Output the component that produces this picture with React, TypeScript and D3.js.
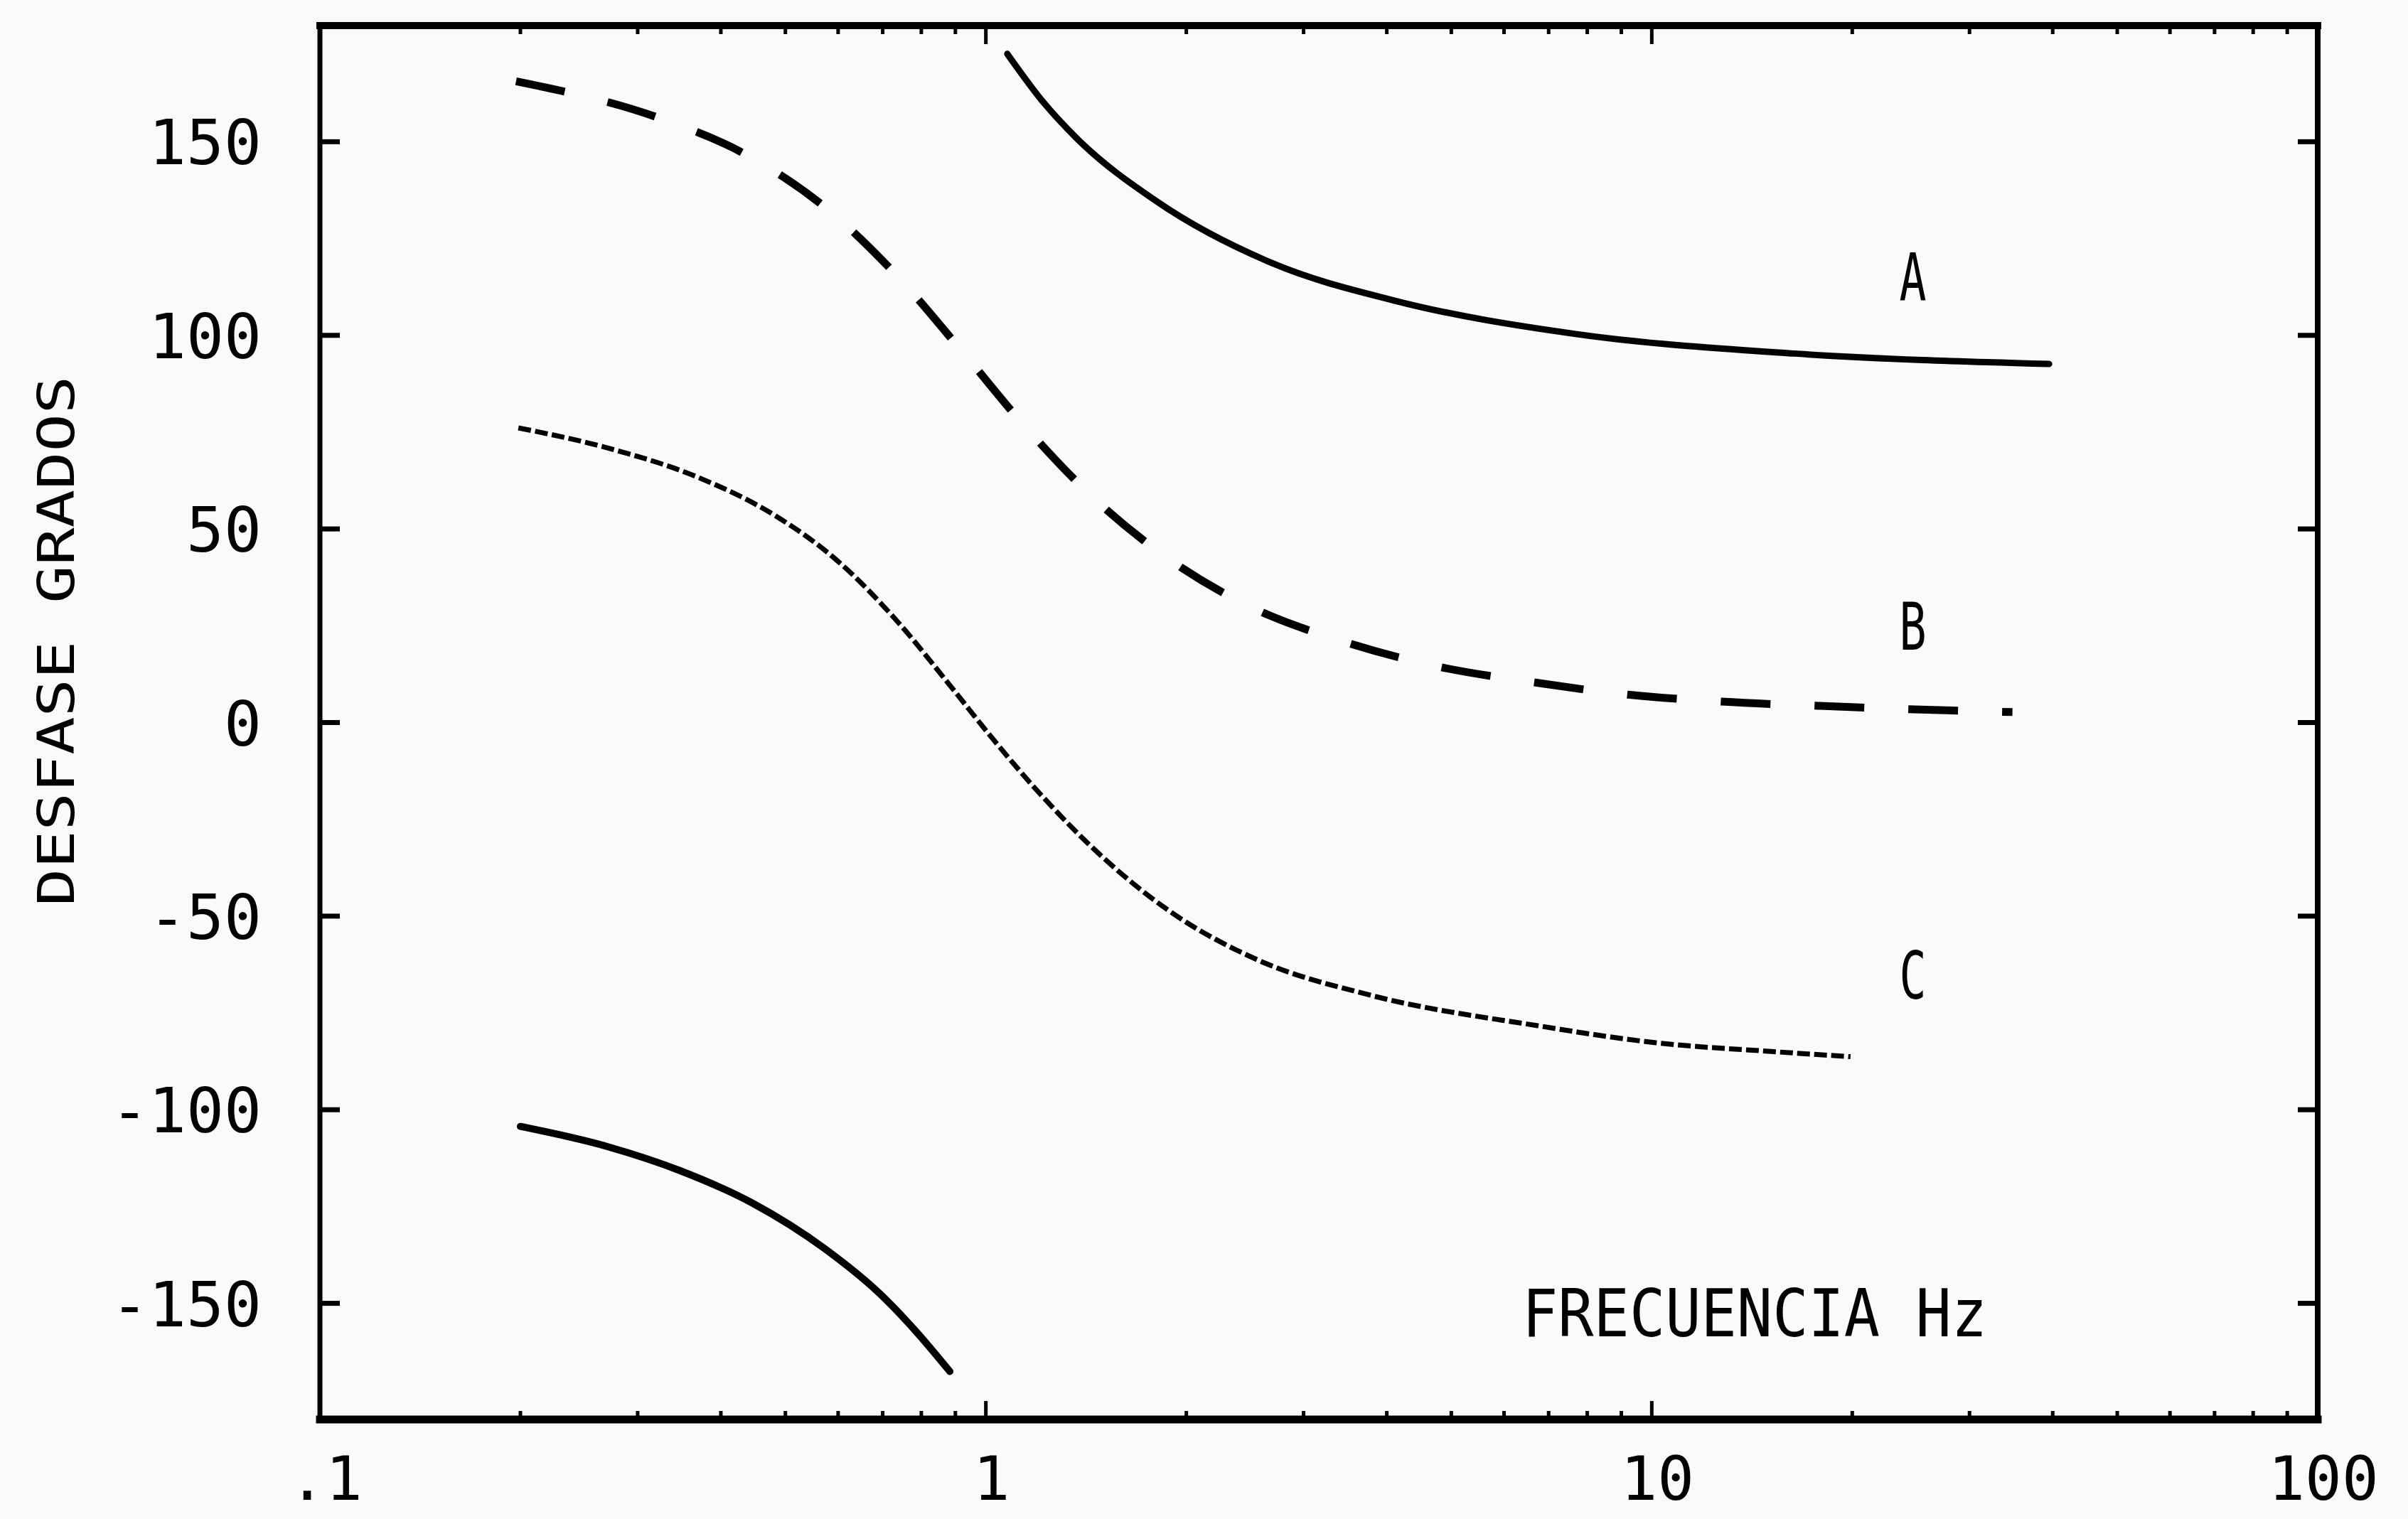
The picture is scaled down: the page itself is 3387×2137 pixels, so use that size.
import React from "react";
import * as d3 from "d3";

// ---------- data ----------
const xTickLabels = [0.1, 1, 10, 100];
const xTickText = [".1", "1", "10", "100"];
const yTickValues = [-150, -100, -50, 0, 50, 100, 150];

// Curve A (solid), upper branch
const freqA = [1.077, 1.224, 1.367, 1.805, 2.695, 4.124, 7.72, 16.38, 39.5];
const phaseA = [172.7, 159.9, 151.0, 134.6, 118.6, 108.9, 100.3, 95.3, 92.6];
// Curve A (solid), wrapped lower branch
const freqAw = [0.2, 0.27, 0.347, 0.446, 0.573, 0.692, 0.785, 0.883];
const phaseAw = [-104.3, -109.5, -115.7, -124.1, -135.9, -147.4, -157.2, -167.6];
// Curve B (long dashes)
const freqB = [0.197, 0.321, 0.435, 0.578, 0.74, 0.925, 1.146, 1.447, 1.887, 2.509, 3.446, 4.73, 6.64, 9.21, 12.74, 17.89, 24.8, 34.8];
const phaseB = [165.6, 156.3, 146.8, 132.6, 114.9, 95.5, 76.4, 58.2, 42.1, 29.7, 20.9, 14.6, 10.4, 7.2, 5.4, 4.3, 3.4, 2.7];
// Curve C (fine dashes)
const freqC = [0.1986, 0.272, 0.37, 0.481, 0.603, 0.74, 0.887, 1.023, 1.206, 1.479, 1.887, 2.559, 3.775, 6.74, 10.14, 15.25, 19.88];
const phaseC = [76.1, 70.8, 63.3, 53.6, 41.3, 25.7, 9.2, -4.1, -18.4, -33.9, -48.7, -61.3, -70.4, -78.3, -82.7, -85.0, -86.3];

const curveLabels = ["A", "B", "C"];
const curveLabelFreq = [24.6, 24.6, 24.6];
const curveLabelPhase = [115, 24.9, -65.2];

const W = 3387;
const H = 2137;
const L = 450, R = 3260, T = 36, B = 1997;
const FONT = "'DejaVu Sans Mono', monospace";

export default function App() {
  const x = d3.scaleLog().domain([0.1, 100]).range([L, R]);
  const y = d3.scaleLinear().domain([-180, 180]).range([B, T]);
  const line = d3
    .line<[number, number]>()
    .x((d) => x(d[0]))
    .y((d) => y(d[1]))
    .curve(d3.curveMonotoneX);
  const zip = (f: number[], p: number[]) => f.map((v, i) => [v, p[i]] as [number, number]);

  const minor: number[] = [];
  [0.1, 1, 10].forEach((d) => {
    for (let k = 2; k <= 9; k++) minor.push(d * k);
  });
  const major = [1, 10];

  return (
    <div style={{ position: "absolute", left: 0, top: 0, width: W, height: H }}>
      <svg width={W} height={H} viewBox={`0 0 ${W} ${H}`} style={{ display: "block" }}>
        <rect x={0} y={0} width={W} height={H} fill="#fafafa" />
        {/* frame */}
        <g stroke="#000" strokeLinecap="square">
          <line x1={L} y1={T} x2={R} y2={T} strokeWidth={10} />
          <line x1={L} y1={B} x2={R} y2={B} strokeWidth={11} />
          <line x1={L} y1={T} x2={L} y2={B} strokeWidth={7} />
          <line x1={R} y1={T} x2={R} y2={B} strokeWidth={8} />
        </g>
        {/* y ticks */}
        <g stroke="#000" strokeWidth={7}>
          {yTickValues.map((v) => (
            <g key={"yt" + v}>
              <line x1={L} x2={L + 28} y1={y(v)} y2={y(v)} />
              <line x1={R} x2={R - 28} y1={y(v)} y2={y(v)} />
            </g>
          ))}
        </g>
        {/* x ticks */}
        <g stroke="#000" strokeWidth={5}>
          {minor.map((f) => (
            <g key={"xm" + f}>
              <line x1={x(f)} x2={x(f)} y1={B} y2={B - 12} />
              <line x1={x(f)} x2={x(f)} y1={T} y2={T + 12} />
            </g>
          ))}
          {major.map((f) => (
            <g key={"xM" + f}>
              <line x1={x(f)} x2={x(f)} y1={B} y2={B - 26} />
              <line x1={x(f)} x2={x(f)} y1={T} y2={T + 26} />
            </g>
          ))}
        </g>
        {/* y tick labels */}
        <g fontFamily={FONT} fontSize={88} fill="#000" textAnchor="end">
          {yTickValues.map((v) => (
            <text key={"yl" + v} x={368} y={y(v) + 32}>
              {String(v)}
            </text>
          ))}
        </g>
        {/* x tick labels */}
        <g fontFamily={FONT} fontSize={86} fill="#000" textAnchor="middle">
          {xTickLabels.map((f, i) => (
            <text key={"xl" + f} x={x(f) + 8} y={2110}>
              {xTickText[i]}
            </text>
          ))}
        </g>
        {/* axis titles */}
        <text
          x={2141}
          y={1880}
          fontFamily={FONT}
          fontSize={92}
          textLength={654}
          lengthAdjust="spacingAndGlyphs"
          fill="#000"
        >
          FRECUENCIA Hz
        </text>
        <text
          transform="translate(104, 902) rotate(-90)"
          x={0}
          y={0}
          textAnchor="middle"
          fontFamily={FONT}
          fontSize={72}
          textLength={746}
          lengthAdjust="spacingAndGlyphs"
          fill="#000"
        >
          DESFASE GRADOS
        </text>
        {/* curves */}
        <path d={line(zip(freqA, phaseA)) || ""} fill="none" stroke="#000" strokeWidth={9} strokeLinecap="round" />
        <path d={line(zip(freqAw, phaseAw)) || ""} fill="none" stroke="#000" strokeWidth={10} strokeLinecap="round" />
        <path
          d={line(zip(freqB, phaseB)) || ""}
          fill="none"
          stroke="#000"
          strokeWidth={11}
          strokeDasharray="70 62"
        />
        <path
          d={line(zip(freqC, phaseC)) || ""}
          fill="none"
          stroke="#000"
          strokeWidth={7}
          strokeDasharray="18 6"
        />
        {/* curve labels */}
        <g fontFamily={FONT} fontSize={92} fill="#000">
          {curveLabels.map((c, i) => (
            <text
              key={c}
              x={x(curveLabelFreq[i]) - 18}
              y={y(curveLabelPhase[i]) + 33}
              textLength={38}
              lengthAdjust="spacingAndGlyphs"
            >
              {c}
            </text>
          ))}
        </g>
      </svg>
    </div>
  );
}
